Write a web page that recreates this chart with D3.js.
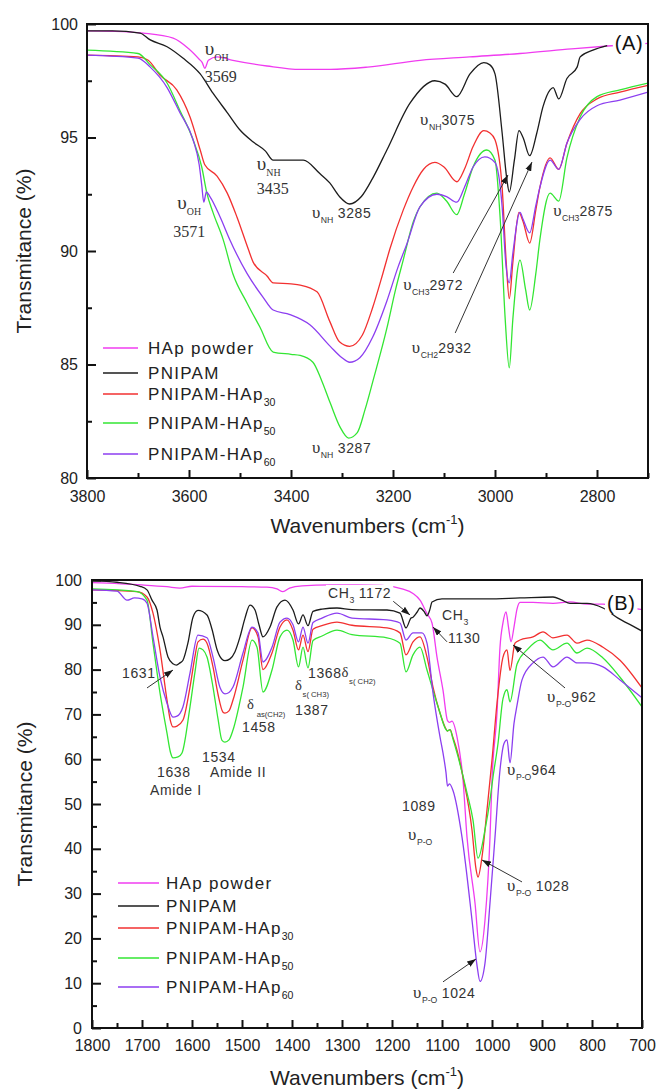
<!DOCTYPE html>
<html><head><meta charset="utf-8">
<script src="https://cdn.jsdelivr.net/npm/d3@7"></script>
<style>body{margin:0;background:#fff}svg{display:block}</style>
</head><body>
<svg id="chart" width="657" height="1091"></svg>
<script>
// FTIR spectra: [wavenumber (cm-1), transmittance (%)]
const seriesNames = ["HAp powder", "PNIPAM", "PNIPAM-HAp", "PNIPAM-HAp", "PNIPAM-HAp"];
const seriesSubs = ["", "", "30", "50", "60"];
const seriesColors = ["#f03cf0", "#1c1c1c", "#f23030", "#33e633", "#8c3ef0"];

// Panel A: 3800-2700 cm-1
const hapA = [[3800,99.7],[3750,99.68],[3690,99.6],[3631,99.38],[3600,98.9],[3580,98.45],[3574,98.3],[3569,98.05],[3562,98.4],[3545,98.55],[3514,98.4],[3447,98.15],[3382,98.0],[3323,98.0],[3250,98.1],[3147,98.4],[3050,98.55],[2951,98.7],[2850,98.9],[2779,99.03],[2700,99.15]];
const pnipamA = [[3800,99.7],[3750,99.7],[3696,99.6],[3676,99.3],[3643,99.0],[3612,98.5],[3578,97.8],[3553,96.95],[3525,96.1],[3500,95.33],[3474,94.8],[3450,94.4],[3435,94.0],[3415,94.0],[3376,94.0],[3343,93.4],[3324,93.0],[3305,92.4],[3285,92.07],[3262,92.4],[3240,93.2],[3212,94.45],[3167,96.5],[3118,97.5],[3098,97.35],[3075,96.8],[3049,97.8],[3022,98.3],[3010,98.2],[3000,97.8],[2986,95.2],[2977,93.2],[2972,92.6],[2962,94.0],[2953,95.3],[2945,95.0],[2932,94.2],[2918,95.2],[2906,96.35],[2892,97.1],[2886,97.2],[2875,96.7],[2859,97.6],[2839,98.1],[2833,98.55],[2808,98.85],[2780,99.05]];
const hap30A = [[3800,98.63],[3700,98.55],[3680,98.4],[3657,97.75],[3624,97.1],[3598,95.9],[3578,94.45],[3569,93.8],[3545,93.3],[3525,92.55],[3506,91.5],[3484,90.1],[3474,89.5],[3447,88.9],[3435,88.6],[3400,88.55],[3382,88.5],[3349,88.2],[3324,86.9],[3305,86.0],[3285,85.8],[3260,86.3],[3240,87.5],[3220,89.0],[3206,90.1],[3180,91.8],[3161,92.8],[3140,93.6],[3118,93.9],[3100,93.7],[3075,93.05],[3060,93.6],[3043,94.6],[3022,95.3],[3010,95.2],[3000,94.9],[2986,92.8],[2978,89.5],[2972,87.9],[2965,89.5],[2953,91.7],[2945,91.3],[2932,90.35],[2920,91.8],[2912,92.8],[2892,94.1],[2875,93.6],[2859,94.75],[2833,96.05],[2800,96.7],[2755,97.0],[2700,97.3]];
const hap50A = [[3800,98.85],[3700,98.7],[3676,98.2],[3643,97.4],[3618,96.2],[3592,94.9],[3575,93.7],[3565,92.55],[3553,91.7],[3533,90.5],[3514,89.0],[3486,87.7],[3461,86.65],[3435,85.55],[3400,85.45],[3382,85.4],[3357,85.1],[3340,84.3],[3323,83.3],[3304,82.25],[3287,81.76],[3270,82.0],[3255,83.0],[3239,84.3],[3212,86.6],[3195,88.3],[3180,89.6],[3160,91.3],[3147,91.95],[3114,92.55],[3095,92.2],[3075,91.6],[3060,92.5],[3043,93.7],[3016,94.45],[3000,94.0],[2990,91.5],[2980,87.0],[2972,84.85],[2965,87.0],[2951,89.6],[2940,88.3],[2932,87.4],[2920,89.0],[2912,90.5],[2892,92.55],[2875,92.2],[2859,94.1],[2833,95.9],[2800,96.8],[2755,97.1],[2700,97.4]];
const hap60A = [[3800,98.63],[3700,98.5],[3676,98.1],[3643,97.2],[3618,96.1],[3592,94.9],[3580,93.8],[3575,92.9],[3571,92.15],[3566,92.6],[3559,92.4],[3539,91.5],[3520,90.5],[3486,89.0],[3455,87.97],[3435,87.4],[3402,87.2],[3363,86.75],[3323,85.8],[3300,85.3],[3285,85.1],[3265,85.3],[3240,86.2],[3212,87.8],[3190,89.3],[3173,90.3],[3147,91.95],[3114,92.5],[3095,92.4],[3075,92.15],[3060,92.8],[3043,93.7],[3020,94.15],[3000,93.9],[2986,91.95],[2979,89.5],[2972,88.6],[2965,89.9],[2951,91.7],[2945,91.4],[2932,90.8],[2920,92.0],[2912,92.8],[2892,94.0],[2875,93.6],[2859,94.75],[2833,95.8],[2800,96.4],[2755,96.65],[2700,97.0]];

// Panel B: 1800-700 cm-1
const hapB = [[1800,99.4],[1700,98.9],[1650,98.5],[1624,98.2],[1600,98.6],[1500,98.5],[1450,98.4],[1430,98.0],[1418,97.4],[1405,98.2],[1380,98.7],[1324,98.9],[1270,98.9],[1220,98.8],[1180,98.0],[1158,97.0],[1144,95.5],[1130,92.5],[1120,90.4],[1110,82.8],[1098,75.4],[1089,68.6],[1085,68.2],[1080,68.5],[1070,65.0],[1058,55.4],[1050,42.6],[1034,27.9],[1024,17.0],[1014,24.1],[1004,42.6],[1000,55.4],[990,70.3],[984,85.0],[978,90.5],[972,92.9],[967,89.5],[962,86.2],[956,89.5],[950,93.5],[944,95.0],[918,95.0],[878,94.8],[844,95.1],[810,94.6],[778,94.6],[740,94.0],[700,93.4]];
const pnipamB = [[1800,99.8],[1750,99.5],[1704,98.6],[1690,97.8],[1680,95.5],[1670,93.3],[1664,89.5],[1658,87.3],[1648,82.8],[1638,81.3],[1631,81.0],[1624,81.5],[1618,82.1],[1608,86.0],[1598,91.7],[1588,93.2],[1570,92.2],[1560,89.0],[1550,84.5],[1540,82.3],[1534,82.0],[1524,82.4],[1514,84.0],[1504,87.3],[1494,91.5],[1484,94.4],[1474,93.3],[1466,90.0],[1458,87.3],[1444,89.5],[1430,94.0],[1414,95.5],[1398,93.3],[1387,90.2],[1378,92.2],[1368,89.8],[1358,93.0],[1340,93.5],[1310,93.75],[1280,93.4],[1210,93.3],[1184,92.6],[1172,89.3],[1162,91.5],[1158,91.7],[1150,92.8],[1144,93.75],[1136,93.0],[1130,92.0],[1124,93.5],[1120,95.1],[1100,95.8],[1010,95.8],[944,96.0],[878,96.2],[860,95.5],[844,94.8],[810,94.8],[778,93.75],[748,91.5],[720,89.8],[700,88.6]];
const hap30B = [[1800,97.8],[1710,97.4],[1690,96.2],[1678,92.6],[1664,84.4],[1650,73.2],[1643,68.5],[1638,67.2],[1630,67.4],[1618,68.75],[1604,76.1],[1594,83.0],[1588,86.2],[1578,86.8],[1570,85.9],[1558,80.6],[1548,74.5],[1538,70.5],[1534,70.3],[1526,70.8],[1518,73.2],[1498,82.1],[1480,89.3],[1468,87.3],[1458,80.0],[1440,83.7],[1424,89.5],[1410,91.1],[1398,88.8],[1387,84.4],[1378,87.7],[1368,84.0],[1358,89.0],[1340,89.8],[1310,90.6],[1280,89.9],[1210,89.3],[1184,88.2],[1172,83.3],[1158,86.2],[1144,87.3],[1130,82.8],[1118,76.1],[1104,70.3],[1094,67.2],[1089,66.3],[1084,66.6],[1078,64.8],[1070,62.0],[1058,56.0],[1040,44.2],[1032,35.5],[1028,33.7],[1020,38.2],[1010,48.7],[1000,59.8],[990,72.5],[978,82.8],[970,84.4],[964,79.8],[954,85.9],[944,86.6],[918,87.3],[898,88.4],[878,87.1],[850,87.7],[830,85.9],[810,86.6],[778,85.0],[744,82.1],[700,75.9]];
const hap50B = [[1800,98.0],[1710,97.4],[1690,95.5],[1678,85.9],[1664,74.8],[1650,65.8],[1643,61.5],[1638,60.3],[1628,60.5],[1620,61.4],[1604,71.7],[1594,79.5],[1586,84.8],[1578,84.4],[1570,82.8],[1558,76.1],[1548,69.0],[1540,64.2],[1534,63.8],[1526,64.3],[1518,66.5],[1498,76.1],[1480,86.6],[1470,85.0],[1458,75.0],[1440,79.9],[1424,87.3],[1410,88.8],[1398,86.6],[1387,80.6],[1378,85.0],[1368,80.4],[1358,86.5],[1340,87.5],[1310,88.8],[1280,87.8],[1210,87.1],[1184,85.9],[1172,79.5],[1158,83.3],[1144,85.0],[1130,79.9],[1118,75.4],[1104,70.3],[1094,67.0],[1089,66.3],[1084,66.6],[1078,64.5],[1070,61.4],[1050,52.5],[1038,46.4],[1028,37.9],[1014,44.2],[1004,50.9],[998,56.0],[988,63.5],[978,73.5],[970,75.5],[964,72.8],[950,81.2],[930,84.4],[904,86.6],[878,84.4],[850,85.9],[830,83.7],[810,84.8],[778,82.6],[744,78.3],[700,71.7]];
const hap60B = [[1800,97.8],[1750,97.5],[1730,95.5],[1715,96.0],[1700,95.8],[1690,94.8],[1678,87.3],[1664,78.3],[1650,72.5],[1638,69.4],[1630,69.6],[1618,71.7],[1604,79.2],[1588,87.7],[1570,87.1],[1558,82.8],[1544,76.0],[1534,74.6],[1526,74.9],[1518,76.1],[1498,83.7],[1480,89.5],[1468,88.2],[1458,81.7],[1440,85.0],[1424,90.6],[1410,91.5],[1398,90.0],[1387,86.2],[1378,89.5],[1368,85.9],[1358,90.5],[1340,91.5],[1310,92.6],[1280,91.5],[1210,91.1],[1184,90.4],[1172,86.6],[1158,88.2],[1140,88.2],[1130,85.9],[1118,74.8],[1104,65.0],[1098,61.4],[1092,57.0],[1089,54.0],[1085,54.5],[1078,53.0],[1060,42.6],[1040,24.1],[1030,14.0],[1024,10.4],[1014,14.5],[1004,27.9],[994,42.6],[984,57.6],[976,63.5],[970,64.3],[964,59.2],[956,68.0],[950,72.0],[940,77.7],[918,81.5],[898,82.8],[878,80.6],[850,82.8],[830,81.5],[810,81.5],[778,80.6],[744,77.7],[700,73.7]];

// axis ticks
const xTicksA = [3800, 3600, 3400, 3200, 3000, 2800];
const xMinorA = [3700, 3500, 3300, 3100, 2900, 2700];
const yTicksA = [80, 85, 90, 95, 100];
const yMinorA = [82.5, 87.5, 92.5, 97.5];
const xTicksB = [1800, 1700, 1600, 1500, 1400, 1300, 1200, 1100, 1000, 900, 800, 700];
const xMinorB = [1750, 1650, 1550, 1450, 1350, 1250, 1150, 1050, 950, 850, 750];
const yTicksB = [0, 10, 20, 30, 40, 50, 60, 70, 80, 90, 100];
const yMinorB = [5, 15, 25, 35, 45, 55, 65, 75, 85, 95];

// band assignments: text pieces anchored at (wavenumber, transmittance)
const notesA = [
  { wn: 3569, t: 98.63, parts: [["υ", "u"], ["OH", "sub"]], font: "serif" },
  { wn: 3569, t: 97.44, parts: [["3569"]], font: "serif" },
  { wn: 3467, t: 93.57, parts: [["υ", "u"], ["NH", "sub"]], font: "serif" },
  { wn: 3467, t: 92.51, parts: [["3435"]], font: "serif" },
  { wn: 3623, t: 91.85, parts: [["υ", "u"], ["OH", "sub"]], font: "serif" },
  { wn: 3631, t: 90.62, parts: [["3571"]], font: "serif" },
  { wn: 3359, t: 91.45, parts: [["υ", "u"], ["NH", "sub"], [" 3285"]] },
  { wn: 3147, t: 95.55, parts: [["υ", "u"], ["NH", "sub"], ["3075"]] },
  { wn: 2886, t: 91.54, parts: [["υ", "u"], ["CH3", "sub"], ["2875"]] },
  { wn: 3180, t: 88.28, parts: [["υ", "u"], ["CH3", "sub"], ["2972"]] },
  { wn: 3163, t: 85.5, parts: [["υ", "u"], ["CH2", "sub"], ["2932"]] },
  { wn: 3359, t: 81.1, parts: [["υ", "u"], ["NH", "sub"], [" 3287"]] }
];
const arrowsA = [
  [[3082, 89.03], [2974.5, 93.35]],
  [[3078, 86.39], [2927.5, 93.92]]
];
const notesB = [
  { wn: 1740, t: 78.1, parts: [["1631"]] },
  { wn: 1670, t: 56.0, parts: [["1638"]] },
  { wn: 1684, t: 52.0, parts: [["Amide I"]] },
  { wn: 1580, t: 59.4, parts: [["1534"]] },
  { wn: 1564, t: 56.0, parts: [["Amide II"]] },
  { wn: 1490, t: 70.8, parts: [["δ", "d"], [" as(CH2)", "sub2"]] },
  { wn: 1500, t: 66.1, parts: [["1458"]] },
  { wn: 1394, t: 75.2, parts: [["δ", "d"], ["s( CH3)", "sub2"]] },
  { wn: 1394, t: 69.9, parts: [["1387"]] },
  { wn: 1368, t: 78.1, parts: [["1368"], ["δ", "d"], ["s( CH2)", "sub2"]] },
  { wn: 1100, t: 91.1, parts: [["CH"], ["3", "sub"]] },
  { wn: 1088, t: 85.9, parts: [["1130"]] },
  { wn: 890, t: 72.8, parts: [["υ", "u"], ["P-O", "sub"], ["962"]] },
  { wn: 970, t: 56.5, parts: [["υ", "u"], ["P-O", "sub"], ["964"]] },
  { wn: 1180, t: 48.4, parts: [["1089"]] },
  { wn: 1168, t: 42.0, parts: [["υ", "u"], ["P-O", "sub"]] },
  { wn: 970, t: 30.6, parts: [["υ", "u"], ["P-O", "sub"], [" 1028"]] },
  { wn: 1158, t: 6.7, parts: [["υ", "u"], ["P-O", "sub"], [" 1024"]] }
];
const boxedB = { wn: 1328, t: 96.0, parts: [["CH"], ["3", "sub"], [" 1172"]] };
const arrowsB = [
  [[1690, 75.9], [1638, 79.9]],
  [[1208, 96.2], [1164, 92.2]],
  [[1090, 86.2], [1118, 89.5]],
  [[854, 75.9], [958, 85.5]],
  [[940, 32.6], [1020, 37.5]],
  [[1098, 10.3], [1032, 15.4]]
];

const SANS = "'Liberation Sans', Arial, sans-serif";
const SERIF = "'Liberation Serif', 'Times New Roman', serif";
const INK = "#222";

const svg = d3.select("#chart");
const defs = svg.append("defs");
defs.append("marker").attr("id", "head")
  .attr("viewBox", "0 0 10 7").attr("refX", 10).attr("refY", 3.5)
  .attr("markerWidth", 9).attr("markerHeight", 6.5)
  .attr("markerUnits", "userSpaceOnUse").attr("orient", "auto")
  .append("path").attr("d", "M0,0 L10,3.5 L0,7 Z").attr("fill", "#1a1a1a");

// mixed text with sub/superscripts
function rich(g, x, y, parts, o = {}) {
  const size = o.size || 14;
  const t = g.append("text").attr("x", x).attr("y", y)
    .style("font-size", size + "px")
    .style("font-family", o.family || SANS)
    .style("letter-spacing", (o.spacing || 0) + "px")
    .attr("fill", o.fill || INK);
  let shift = 0;
  for (const p of parts) {
    const s = p[0], k = p[1] || "n";
    let target = 0, fs = size, fam = null, ls = null;
    if (k === "sub") { target = size * 0.38; fs = size * 0.62; ls = 0; }
    if (k === "sub2") { target = size * 0.42; fs = size * 0.55; ls = 0; }
    if (k === "sup") { target = -size * 0.45; fs = size * 0.62; ls = 0; }
    if (k === "u") { fam = SERIF; fs = size * 1.2; }
    if (k === "d") { fam = SERIF; fs = size * 1.05; target = -size * 0.1; }
    const ts = t.append("tspan").attr("dy", target - shift).style("font-size", fs + "px").text(s);
    if (fam) ts.style("font-family", fam);
    if (ls !== null) ts.style("letter-spacing", ls + "px");
    shift = target;
  }
  return t;
}

// text with a white backing box that hides the spectra beneath it
function boxedText(P, n, size, fill) {
  const t = rich(P.g, P.x(n.wn), P.y(n.t), n.parts, { size, spacing: 0.6, fill: fill || "#333" });
  const b = t.node().getBBox();
  P.g.insert("rect", () => t.node())
    .attr("x", b.x - 2).attr("y", b.y).attr("width", b.width + 4).attr("height", b.height)
    .attr("fill", "#fff");
  return t;
}

function panel(cfg) {
  const { left, top, width, height } = cfg;
  const g = svg.append("g").attr("transform", `translate(${left},${top})`);
  const x = d3.scaleLinear().domain(cfg.xDomain).range([0, width]);
  const y = d3.scaleLinear().domain(cfg.yDomain).range([height, 0]);

  const clipId = "clip" + cfg.id;
  defs.append("clipPath").attr("id", clipId)
    .append("rect").attr("x", 0).attr("y", 0).attr("width", width).attr("height", height);

  const line = d3.line().x(d => x(d[0])).y(d => y(d[1])).curve(d3.curveMonotoneX);
  const plot = g.append("g").attr("clip-path", `url(#${clipId})`);
  cfg.series.forEach((s, i) => {
    plot.append("path").datum(s).attr("d", line)
      .attr("fill", "none").attr("stroke", seriesColors[i])
      .attr("stroke-width", 1.3).attr("stroke-linejoin", "round");
  });

  // frame
  g.append("rect").attr("width", width).attr("height", height)
    .attr("fill", "none").attr("stroke", "#111").attr("stroke-width", 2);

  const styleAxis = a => {
    a.select(".domain").remove();
    a.selectAll(".tick line").attr("stroke", "#111").attr("stroke-width", 2);
    a.selectAll("text").style("font-family", SANS).style("font-size", "16px").attr("fill", INK);
  };
  g.append("g").call(d3.axisLeft(y).tickValues(cfg.yTicks).tickFormat(d3.format("d")).tickSize(-9).tickPadding(cfg.yPad)).call(styleAxis);
  g.append("g").call(d3.axisLeft(y).tickValues(cfg.yMinor).tickFormat("").tickSize(-5)).call(styleAxis);
  g.append("g").attr("transform", `translate(0,${height})`)
    .call(d3.axisBottom(x).tickValues(cfg.xTicks).tickFormat(d3.format("d")).tickSize(-8).tickPadding(cfg.xPad)).call(styleAxis);
  g.append("g").attr("transform", `translate(0,${height})`)
    .call(d3.axisBottom(x).tickValues(cfg.xMinor).tickFormat("").tickSize(-5)).call(styleAxis);

  // axis titles
  const xt = rich(g, width / 2, height + cfg.xTitleGap, [["Wavenumbers (cm"], ["-1", "sup"], [")"]], { size: 21 });
  xt.attr("text-anchor", "middle");
  g.append("text").attr("transform", `translate(${cfg.yTitleX},${height / 2}) rotate(-90)`)
    .attr("text-anchor", "middle").style("font-family", SANS).style("font-size", "21px")
    .attr("fill", INK).text("Transmitance (%)");

  // legend
  const lg = g.append("g").attr("transform", `translate(${cfg.legend.x},0)`);
  cfg.legend.rows.forEach((ry, i) => {
    lg.append("line").attr("x1", 0).attr("x2", cfg.legend.len).attr("y1", ry).attr("y2", ry)
      .attr("stroke", seriesColors[i]).attr("stroke-width", 1.6);
    const parts = [[seriesNames[i]]];
    if (seriesSubs[i]) parts.push([seriesSubs[i], "sub"]);
    rich(lg, cfg.legend.len + cfg.legend.gap, ry + 6, parts, { size: 17, spacing: 1.3 });
  });

  return { g, x, y };
}

// ---------- Panel A ----------
const A = panel({
  id: "A", left: 87, top: 24, width: 561, height: 454,
  xDomain: [3800, 2700], yDomain: [80, 100],
  series: [hapA, pnipamA, hap30A, hap50A, hap60A],
  xTicks: xTicksA, xMinor: xMinorA, yTicks: yTicksA, yMinor: yMinorA,
  yPad: 9, xPad: 13, xTitleGap: 55, yTitleX: -56,
  legend: { x: 16, len: 35, gap: 10, rows: [324, 349, 370, 399, 430] }
});
notesA.forEach(n => {
  const serif = n.font === "serif";
  rich(A.g, A.x(n.wn), A.y(n.t), n.parts, {
    size: serif ? 16 : 14, family: serif ? SERIF : SANS, spacing: serif ? 0 : 0.6, fill: "#333"
  });
});
arrowsA.forEach(a => {
  A.g.append("line").attr("x1", A.x(a[0][0])).attr("y1", A.y(a[0][1]))
    .attr("x2", A.x(a[1][0])).attr("y2", A.y(a[1][1]))
    .attr("stroke", "#333").attr("stroke-width", 1).attr("marker-end", "url(#head)");
});
boxedText(A, { wn: 2765, t: 98.85, parts: [["(A)"]] }, 20, "#111");

// ---------- Panel B ----------
const B = panel({
  id: "B", left: 92, top: 580, width: 550, height: 448,
  xDomain: [1800, 700], yDomain: [0, 100],
  series: [hapB, pnipamB, hap30B, hap50B, hap60B],
  xTicks: xTicksB, xMinor: xMinorB, yTicks: yTicksB, yMinor: yMinorB,
  yPad: 10, xPad: 12, xTitleGap: 57, yTitleX: -60,
  legend: { x: 26, len: 41, gap: 7, rows: [303, 326, 348, 378, 407] }
});
notesB.forEach(n => {
  rich(B.g, B.x(n.wn), B.y(n.t), n.parts, { size: 14, spacing: 0.6, fill: "#333" });
});
arrowsB.forEach(a => {
  B.g.append("line").attr("x1", B.x(a[0][0])).attr("y1", B.y(a[0][1]))
    .attr("x2", B.x(a[1][0])).attr("y2", B.y(a[1][1]))
    .attr("stroke", "#333").attr("stroke-width", 1).attr("marker-end", "url(#head)");
});
boxedText(B, boxedB, 14);
boxedText(B, { wn: 770, t: 93.3, parts: [["(B)"]] }, 20, "#111");
</script>
</body></html>
